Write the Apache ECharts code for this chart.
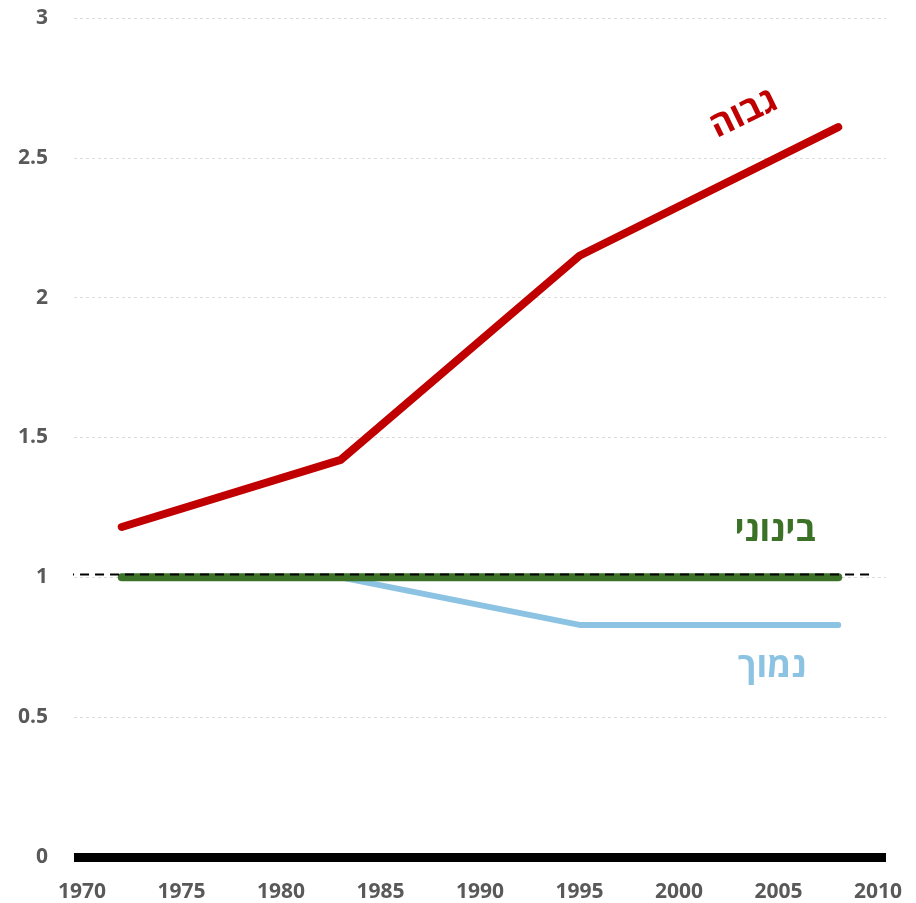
<!DOCTYPE html>
<html lang="he">
<head>
  <meta charset="UTF-8">
  <title>chart</title>
</head>
<body style="margin:0">
<div id="main" style="width: 916px;height:903px;"></div>
<script src="https://cdn.jsdelivr.net/npm/echarts@6/dist/echarts.min.js"></script>
<script>
var years = [1972, 1983, 1995, 2008];
var high = [1.18, 1.42, 2.15, 2.61];
var mid = [1, 1, 1, 1];
var low = [1, 1, 0.83, 0.83];
var xTicks = [1970, 1975, 1980, 1985, 1990, 1995, 2000, 2005, 2010];
var refLine = [[1969.15, 1.01], [2009.6, 1.01]];

function pairs(ys) {
  return years.map(function (y, i) { return [y, ys[i]]; });
}

var myChart = echarts.init(document.getElementById('main'));
var font = '"Open Sans", sans-serif';

myChart.setOption({
  animation: false,
  grid: { left: 74, right: 30, top: 18, bottom: 46 },
  xAxis: {
    type: 'value',
    min: 1969.6,
    max: 2010.4,
    axisLine: { show: true, lineStyle: { color: '#000', width: 9, cap: 'butt' } },
    axisTick: { show: false },
    splitLine: { show: false },
    axisLabel: {
      customValues: xTicks,
      formatter: function (v) { return String(v); },
      margin: 25,
      color: '#595959',
      fontSize: 21,
      fontWeight: 'bold',
      fontFamily: font
    }
  },
  yAxis: {
    type: 'value',
    min: 0,
    max: 3,
    interval: 0.5,
    axisLine: { show: false },
    axisTick: { show: false },
    splitLine: { lineStyle: { color: '#dcdcdc', type: [3, 3], width: 1 } },
    axisLabel: {
      margin: 26,
      color: '#595959',
      fontSize: 21,
      fontWeight: 'bold',
      fontFamily: font
    }
  },
  series: [
    {
      name: 'נמוך', type: 'line', data: pairs(low), symbol: 'none',
      lineStyle: { color: '#8cc3e3', width: 6, cap: 'round', join: 'round' }
    },
    {
      name: 'בינוני', type: 'line', data: pairs(mid), symbol: 'none',
      lineStyle: { color: '#3b7228', width: 8, cap: 'round', join: 'round' }
    },
    {
      name: 'גבוה', type: 'line', data: pairs(high), symbol: 'none',
      lineStyle: { color: '#c00000', width: 8, cap: 'round', join: 'round' }
    },
    {
      name: 'ref', type: 'line', data: refLine, symbol: 'none', clip: false,
      lineStyle: { color: '#000', width: 2, type: [9, 6] }
    }
  ],
  graphic: [
    {
      type: 'text', x: 744, y: 114, rotation: 0.45,
      style: { text: 'גבוה', fill: '#c00000', font: 'bold 35px ' + font, align: 'center', verticalAlign: 'middle' }
    },
    {
      type: 'text', x: 775, y: 531,
      style: { text: 'בינוני', fill: '#3b7228', font: 'bold 35px ' + font, align: 'center', verticalAlign: 'middle' }
    },
    {
      type: 'text', x: 772, y: 667,
      style: { text: 'נמוך', fill: '#8cc3e3', font: 'bold 35px ' + font, align: 'center', verticalAlign: 'middle' }
    }
  ]
});
</script>
</body>
</html>
